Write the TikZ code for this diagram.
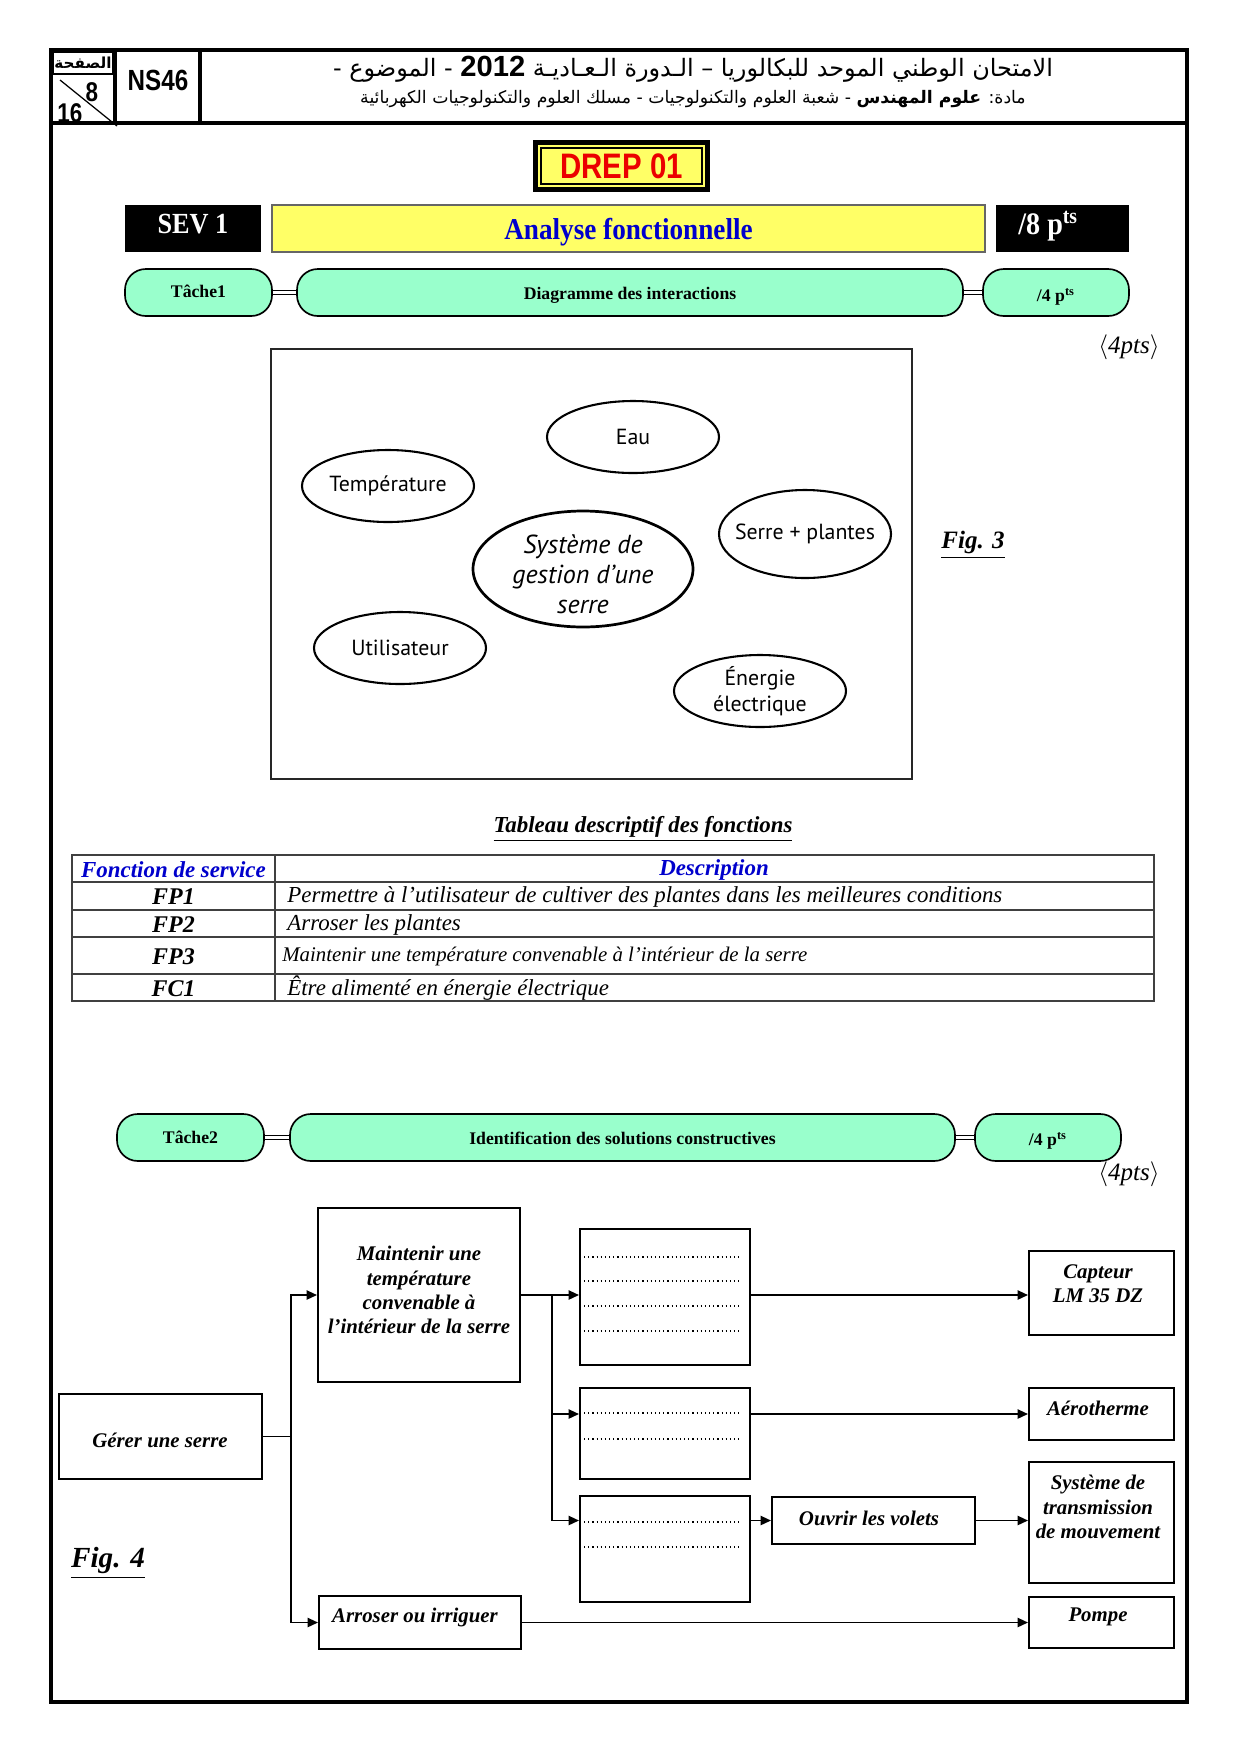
\documentclass[tikz,border=0pt]{standalone}
\usepackage{fontspec}
\setmainfont{Liberation Serif}
\usetikzlibrary{arrows.meta,shapes.geometric,fit,calc}
\TeXXeTstate=1
\newfontfamily\arabicfont[Script=Arabic]{DejaVu Sans}
\newfontfamily\hsans{Liberation Sans}
\newfontfamily\hsansn[FakeStretch=0.83]{Liberation Sans}
\newfontfamily\cserif[FakeStretch=0.9]{Liberation Serif}
\newfontfamily\ptsans{PT Sans}
\definecolor{mint}{RGB}{153,255,204}
\definecolor{yel}{RGB}{255,255,102}
\definecolor{tblue}{RGB}{0,0,204}
\definecolor{dred}{RGB}{235,0,0}
\newcommand\fsz[2]{\fontsize{#1}{#2}\selectfont}
\begin{document}
\begin{tikzpicture}[x=0.48pt,y=-0.48pt,
  pill/.style={draw, line width=0.8pt, fill=mint, rounded corners=10pt, inner sep=0pt},
  pilltxt/.style={font=\bfseries\fsz{8.5}{10}},
  ell/.style={draw, ellipse, line width=1pt, inner sep=0pt},
  elltxt/.style={font=\ptsans\fsz{10.5}{12.4}, align=center},
  esize/.style 2 args={minimum width={#1*0.48pt}, minimum height={#2*0.48pt}},
  fbox/.style={draw, line width=1pt, inner sep=0pt},
  ftxt/.style={align=center, font=\bfseries\itshape\fsz{10}{11.6}},
  arr/.style={-{Triangle[length=5pt,width=4.5pt]}, line width=0.7pt},
  link/.style={double, double distance=1.3pt, line width=0.6pt},
  dots/.style={line width=0.6pt, dash pattern=on 0.6pt off 1.4pt},
  tline/.style={line width=0.8pt, black!75},
  pts/.style={font=\itshape\fsz{12}{14}},
  thead/.style={text=tblue, font=\bfseries\itshape\fsz{11}{13}},
  rowlab/.style={font=\bfseries\itshape\fsz{11.5}{13}},
  desc/.style={anchor=west, font=\itshape\fsz{11}{13}},
]
\fill[white] (0,0) rectangle (1240,1754);
\useasboundingbox (0,0) rectangle (1240,1754);

% frame and header
\draw[line width=2pt] (51,50) rectangle (1187,1702);
\draw[line width=1.6pt] (51,123) -- (1187,123);
\draw[line width=1.6pt] (115,50) -- (115,123);
\draw[line width=1.6pt] (200,50) -- (200,123);
\node[draw, line width=0.8pt, inner sep=0pt, fit={(53,52)(113,74)}] (pglab) {};
\node[font=\arabicfont\bfseries\fsz{7.3}{8}] (pglabt) at (pglab.center) {\beginR الصفحة\endR};
\draw[line width=0.6pt] (60,80) -- (117,126);
\node[font=\hsansn\bfseries\fsz{13}{13}] (p8) at (92,92) {8};
\node[font=\hsansn\bfseries\fsz{13}{13}] (p16) at (70,113) {16};
\node[font=\hsansn\bfseries\fsz{14}{14}] (ns) at (158,80) {NS46};
\node[font=\arabicfont\fsz{11.5}{12}] (ar1) at (693,69) {\beginR الامتحان الوطني الموحد للبكالوريا – الـدورة الـعـاديـة \beginL{\hsans\bfseries\fsz{14}{14}2012}\endL{} - الموضوع -\endR};
\node[font=\arabicfont\fsz{8.3}{10}] (ar2) at (693,99) {\beginR مادة: {\bfseries علوم المهندس} - شعبة العلوم والتكنولوجيات - مسلك العلوم والتكنولوجيات الكهربائية\endR};

% DREP 01
\fill (533,140) rectangle (710,192);
\fill[yel] (538,145) rectangle (705,187);
\draw[line width=0.6pt] (541,148) rectangle (702,184);
\node[text=dred, font=\hsansn\bfseries\fsz{17}{17}] (drep) at (621.5,166) {DREP 01};

% SEV banner
\node[fill=black, inner sep=0pt, fit={(125,205)(261,252)}] (sev) {};
\node[text=white, font=\cserif\bfseries\fsz{14}{14}] (sevt) at ($(sev.center)+(0,-4)$) {SEV 1};
\node[draw=black!60, line width=0.6pt, fill=yel, inner sep=0pt, fit={(272,205)(985,252)}] (af) {};
\node[text=tblue, font=\cserif\bfseries\fsz{14.5}{14}] (aft) at ($(af.center)+(0,4)$) {Analyse fonctionnelle};
\node[fill=black, inner sep=0pt, fit={(996,205)(1129,252)}] (p8b) {};
\node[text=white, font=\cserif\bfseries\fsz{15}{15}, anchor=west] (p8t) at (1011,226) {/8 p\textsuperscript{ts}};

% Tache 1
\node[pill, fit={(125,269)(272,316)}] (t1) {};
\node[pill, fit={(297,269)(963,316)}] (d1) {};
\node[pill, fit={(983,269)(1129,316)}] (q1) {};
\node[pilltxt] at ($(t1.center)+(0,-1)$) {Tâche1};
\node[pilltxt] at ($(d1.center)+(0,3)$) {Diagramme des interactions};
\node[pilltxt] at ($(q1.center)+(0,4)$) {/4 p\textsuperscript{ts}};
\draw[link] (t1) -- (d1);
\draw[link] (d1) -- (q1);
\node[pts] (pts1) at (1129,347) {$\langle$4pts$\rangle$};

% Fig 3
\draw[line width=0.7pt, black!85] (271,349) rectangle (912,779);
\node[ell, esize={172}{72}] (eau) at (633,437) {};
\node[ell, esize={172}{72}] (temp) at (388,486) {};
\node[ell, esize={220}{116}, line width=1.3pt] (sys) at (583,569) {};
\node[ell, esize={172}{88}] (serre) at (805,534) {};
\node[ell, esize={172}{72}] (util) at (400,648) {};
\node[ell, esize={172}{72}] (ener) at (760,691) {};
\node[elltxt] at (eau.center) {Eau};
\node[elltxt] at (temp.center) {Température};
\node[elltxt, font=\ptsans\itshape\fsz{12.5}{14.4}] at ($(sys.center)+(0,5)$) {Système de\\gestion d’une\\serre};
\node[elltxt] at (serre.center) {Serre + plantes};
\node[elltxt] at (util.center) {Utilisateur};
\node[elltxt] at (ener.center) {Énergie\\électrique};
\node[font=\bfseries\itshape\fsz{12}{14}] (fig3) at (973,545) {\underline{Fig. 3}};

% Table
\node[font=\bfseries\itshape\fsz{11}{13}] (ttl) at (643,829) {\underline{Tableau descriptif des fonctions}};
\draw[tline] (72,855) rectangle (1154,1001);
\foreach \yy in {882,910,937,974} \draw[tline] (72,\yy) -- (1154,\yy);
\draw[tline] (275,855) -- (275,1001);
\node[thead] (hfs) at (173.5,870) {Fonction de service};
\node[thead] (hd) at (714,870) {Description};
\node[rowlab] (fp1) at (173.5,897) {FP1};
\node[rowlab] (fp2) at (173.5,924.5) {FP2};
\node[rowlab] (fp3) at (173.5,956.5) {FP3};
\node[rowlab] (fc1) at (173.5,988.5) {FC1};
\node[desc] (d1t) at (280,897) {Permettre à l’utilisateur de cultiver des plantes dans les meilleures conditions};
\node[desc] (d2t) at (280,924.5) {Arroser les plantes};
\node[desc, font=\itshape\fsz{10}{12}] (d3t) at (275,956.5) {Maintenir une température convenable à l’intérieur de la serre};
\node[desc] (d4t) at (280,988.5) {Être alimenté en énergie électrique};

% Tache 2
\node[pill, fit={(117,1114)(264,1161)}] (t2) {};
\node[pill, fit={(290,1114)(955,1161)}] (d2) {};
\node[pill, fit={(975,1114)(1121,1161)}] (q2) {};
\node[pilltxt] at (t2.center) {Tâche2};
\node[pilltxt] at ($(d2.center)+(0,1)$) {Identification des solutions constructives};
\node[pilltxt] at ($(q2.center)+(0,3)$) {/4 p\textsuperscript{ts}};
\draw[link] (t2) -- (d2);
\draw[link] (d2) -- (q2);
\node[pts] (pts2) at (1129,1174) {$\langle$4pts$\rangle$};

% Fig 4
\node[fbox, fit={(59,1394)(262,1479)}] (gerer) {};
\node[fbox, fit={(318,1208)(520,1382)}] (maint) {};
\node[fbox, fit={(319,1596)(521,1649)}] (arros) {};
\node[fbox, fit={(580,1229)(750,1365)}] (s1) {};
\node[fbox, fit={(580,1388)(750,1479)}] (s2) {};
\node[fbox, fit={(580,1496)(750,1602)}] (s3) {};
\node[fbox, fit={(772,1497)(975,1544)}] (ouvr) {};
\node[fbox, fit={(1029,1251)(1174,1335)}] (capt) {};
\node[fbox, fit={(1029,1388)(1174,1440)}] (aero) {};
\node[fbox, fit={(1029,1462)(1174,1583)}] (trans) {};
\node[fbox, fit={(1029,1597)(1174,1648)}] (pompe) {};
\node[ftxt] at (160,1440) {Gérer une serre};
\node[ftxt] at (419,1290) {Maintenir une\\température\\convenable à\\l’intérieur de la serre};
\node[ftxt] at (415,1617) {Arroser ou irriguer};
\node[ftxt] at (869,1518) {Ouvrir les volets};
\node[ftxt] at (1098,1284) {Capteur\\LM 35 DZ};
\node[ftxt] at (1098,1408) {Aérotherme};
\node[ftxt] at (1098,1507) {Système de\\transmission\\de mouvement};
\node[ftxt] at (1098,1617) {Pompe};
\node[font=\bfseries\itshape\fsz{14}{16}] (fig4) at (108,1563) {\underline{Fig. 4}};

\foreach \yy in {1257,1281,1306,1331} \draw[dots] (584,\yy) -- (740,\yy);
\foreach \yy in {1413,1439} \draw[dots] (584,\yy) -- (740,\yy);
\foreach \yy in {1522,1547} \draw[dots] (584,\yy) -- (740,\yy);

\coordinate (j1) at ($(gerer.east)+(28,0)$);
\coordinate (j2) at ($(maint.east)+(31,0)$);
\draw[line width=0.8pt] (gerer.east) -- (j1);
\draw[arr] (j1) |- (maint.west);
\draw[arr] (j1) |- (arros.west);
\draw[arr] (maint.east) -- (s1.west |- maint.east);
\draw[arr] (j2) |- (aero.west -| s2.west);
\draw[arr] (j2) |- (ouvr.west -| s3.west);
\draw[arr] (s1.east |- maint.east) -- (capt.west |- maint.east);
\draw[arr] (aero.west -| s2.east) -- (aero.west);
\draw[arr] (ouvr.west -| s3.east) -- (ouvr.west);
\draw[arr] (ouvr.east) -- (trans.west |- ouvr.east);
\draw[arr] (arros.east) -- (pompe.west |- arros.east);
\end{tikzpicture}
\end{document}
